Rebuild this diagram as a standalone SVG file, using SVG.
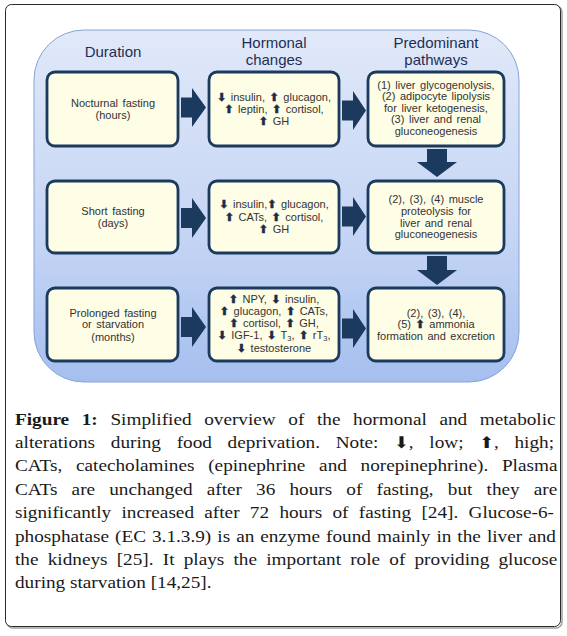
<svg xmlns="http://www.w3.org/2000/svg" width="567" height="636" viewBox="0 0 567 636">
<defs>
<linearGradient id="panelGrad" x1="0" y1="0" x2="0" y2="1">
<stop offset="0" stop-color="#e1e9f9"/>
<stop offset="0.6" stop-color="#c4d4f4"/>
<stop offset="1" stop-color="#a6bfef"/>
</linearGradient>
<style>
.frame{fill:#ffffff;stroke:#2a2a2a;stroke-width:1}
.shadow{fill:none;stroke:#a0a0a0;stroke-width:1.5}
.panel{fill:url(#panelGrad);stroke:#86a3d9;stroke-width:1}
.box{fill:#fefde6;stroke:#1b3a5e;stroke-width:2.8}
.hdr{font-family:"Liberation Sans",Arial,sans-serif;font-size:15px;fill:#1c2f56;text-anchor:middle}
.bt{font-family:"Liberation Sans",Arial,sans-serif;font-size:11px;fill:#333333;text-anchor:middle;word-spacing:1.5px}
.ar{font-family:"DejaVu Sans",sans-serif;font-size:11px;fill:#1b2b46;stroke:#1b2b46;stroke-width:0.5}
.sub{font-size:7.5px;baseline-shift:-2px}
.conn{fill:#1b3a5e}
.cap{font-family:"Liberation Serif","Times New Roman",serif;font-size:17.5px;fill:#1a1a1a}
.capb{font-weight:bold}
.car{font-family:"DejaVu Sans",sans-serif;font-size:16px}
</style>
</defs>

<rect class="shadow" x="7" y="6" width="555" height="622" rx="6"/>
<rect class="frame" x="5.5" y="4.5" width="555" height="622" rx="6"/>

<rect class="panel" x="34" y="30" width="485" height="352" rx="50"/>

<g id="headers">
<text class="hdr" x="113" y="57">Duration</text>
<text class="hdr" x="274" y="48">Hormonal</text>
<text class="hdr" x="274" y="65">changes</text>
<text class="hdr" x="436" y="48">Predominant</text>
<text class="hdr" x="436" y="65">pathways</text>
</g>

<g id="connectors">
<polygon class="conn" points="181,97.5 192,97.5 192,88 206,107.5 192,127 192,117.5 181,117.5"/>
<polygon class="conn" points="342,100.5 353,100.5 353,91 366,110.5 353,130 353,120.5 342,120.5"/>
<polygon class="conn" points="181,208 192,208 192,198 206,218 192,238 192,228 181,228"/>
<polygon class="conn" points="342,206.5 353,206.5 353,197 366,216.5 353,236 353,226.5 342,226.5"/>
<polygon class="conn" points="181,317 192,317 192,307 206,327 192,347 192,337 181,337"/>
<polygon class="conn" points="342,318.5 353,318.5 353,309 366,328.5 353,348 353,338.5 342,338.5"/>
<polygon class="conn" points="427,149 447,149 447,162 457,162 437,177 417,162 427,162"/>
<polygon class="conn" points="427,256 447,256 447,270 457,270 437,285 417,270 427,270"/>
</g>

<g id="nocturnal-fasting">
<rect class="box" x="47" y="72" width="131" height="74" rx="8"/>
<text class="bt" x="113" y="107">Nocturnal fasting</text>
<text class="bt" x="113" y="119">(hours)</text>
</g>
<g id="hormones-nocturnal">
<rect class="box" x="209" y="72" width="130" height="74" rx="8"/>
<text class="bt" x="274" y="101"><tspan class="ar">⬇</tspan> insulin, <tspan class="ar">⬆</tspan> glucagon,</text>
<text class="bt" x="274" y="113"><tspan class="ar">⬆</tspan> leptin, <tspan class="ar">⬆</tspan> cortisol,</text>
<text class="bt" x="274" y="125"><tspan class="ar">⬆</tspan> GH</text>
</g>
<g id="pathways-nocturnal">
<rect class="box" x="368" y="72" width="136" height="74" rx="8"/>
<text class="bt" x="436" y="88.5">(1) liver glycogenolysis,</text>
<text class="bt" x="436" y="100">(2) adipocyte lipolysis</text>
<text class="bt" x="436" y="111.7">for liver ketogenesis,</text>
<text class="bt" x="436" y="123.3">(3) liver and renal</text>
<text class="bt" x="436" y="135">gluconeogenesis</text>
</g>

<g id="short-fasting">
<rect class="box" x="47" y="181" width="131" height="72" rx="8"/>
<text class="bt" x="113" y="215">Short fasting</text>
<text class="bt" x="113" y="226.7">(days)</text>
</g>
<g id="hormones-short">
<rect class="box" x="209" y="181" width="130" height="72" rx="8"/>
<text class="bt" x="274" y="208.3"><tspan class="ar">⬇</tspan> insulin,<tspan class="ar">⬆</tspan> glucagon,</text>
<text class="bt" x="274" y="220.7"><tspan class="ar">⬆</tspan> CATs, <tspan class="ar">⬆</tspan> cortisol,</text>
<text class="bt" x="274" y="232.7"><tspan class="ar">⬆</tspan> GH</text>
</g>
<g id="pathways-short">
<rect class="box" x="368" y="181" width="136" height="72" rx="8"/>
<text class="bt" x="436" y="202.7">(2), (3), (4) muscle</text>
<text class="bt" x="436" y="215">proteolysis for</text>
<text class="bt" x="436" y="226.7">liver and renal</text>
<text class="bt" x="436" y="238.3">gluconeogenesis</text>
</g>

<g id="prolonged-fasting">
<rect class="box" x="47" y="288" width="131" height="73" rx="8"/>
<text class="bt" x="113" y="316.7">Prolonged fasting</text>
<text class="bt" x="113" y="328.3">or starvation</text>
<text class="bt" x="113" y="340.7">(months)</text>
</g>
<g id="hormones-prolonged">
<rect class="box" x="209" y="288" width="130" height="73" rx="8"/>
<text class="bt" x="274" y="303.3"><tspan class="ar">⬆</tspan> NPY, <tspan class="ar">⬇</tspan> insulin,</text>
<text class="bt" x="274" y="315"><tspan class="ar">⬆</tspan> glucagon, <tspan class="ar">⬆</tspan> CATs,</text>
<text class="bt" x="274" y="327.3"><tspan class="ar">⬆</tspan> cortisol, <tspan class="ar">⬆</tspan> GH,</text>
<text class="bt" x="274" y="339.3"><tspan class="ar">⬇</tspan> IGF-1, <tspan class="ar">⬇</tspan> T<tspan class="sub">3</tspan>, <tspan class="ar">⬆</tspan> rT<tspan class="sub">3</tspan>,</text>
<text class="bt" x="274" y="351.9"><tspan class="ar">⬇</tspan> testosterone</text>
</g>
<g id="pathways-prolonged">
<rect class="box" x="368" y="288" width="136" height="73" rx="8"/>
<text class="bt" x="436" y="316.7">(2), (3), (4),</text>
<text class="bt" x="436" y="328.3">(5) <tspan class="ar">⬆</tspan> ammonia</text>
<text class="bt" x="436" y="340">formation and excretion</text>
</g>

<g id="caption" transform="translate(15 0) scale(1.1 1)">
<text class="cap" x="0" y="424.6" word-spacing="7.1"><tspan class="capb">Figure 1:</tspan> Simplified overview of the hormonal and metabolic</text>
<text class="cap" x="0" y="448" word-spacing="9.9">alterations during food deprivation. Note: <tspan class="car">⬇</tspan>, low; <tspan class="car">⬆</tspan>, high;</text>
<text class="cap" x="0" y="471.4" word-spacing="8.1">CATs, catecholamines (epinephrine and norepinephrine). Plasma</text>
<text class="cap" x="0" y="494.8" word-spacing="8.5">CATs are unchanged after 36 hours of fasting, but they are</text>
<text class="cap" x="0" y="518.2" word-spacing="5.0">significantly increased after 72 hours of fasting [24]. Glucose-6-</text>
<text class="cap" x="0" y="541.6" word-spacing="1.1">phosphatase (EC 3.1.3.9) is an enzyme found mainly in the liver and</text>
<text class="cap" x="0" y="565" word-spacing="4.0">the kidneys [25]. It plays the important role of providing glucose</text>
<text class="cap" x="0" y="588.4">during starvation [14,25].</text>
</g>
</svg>
